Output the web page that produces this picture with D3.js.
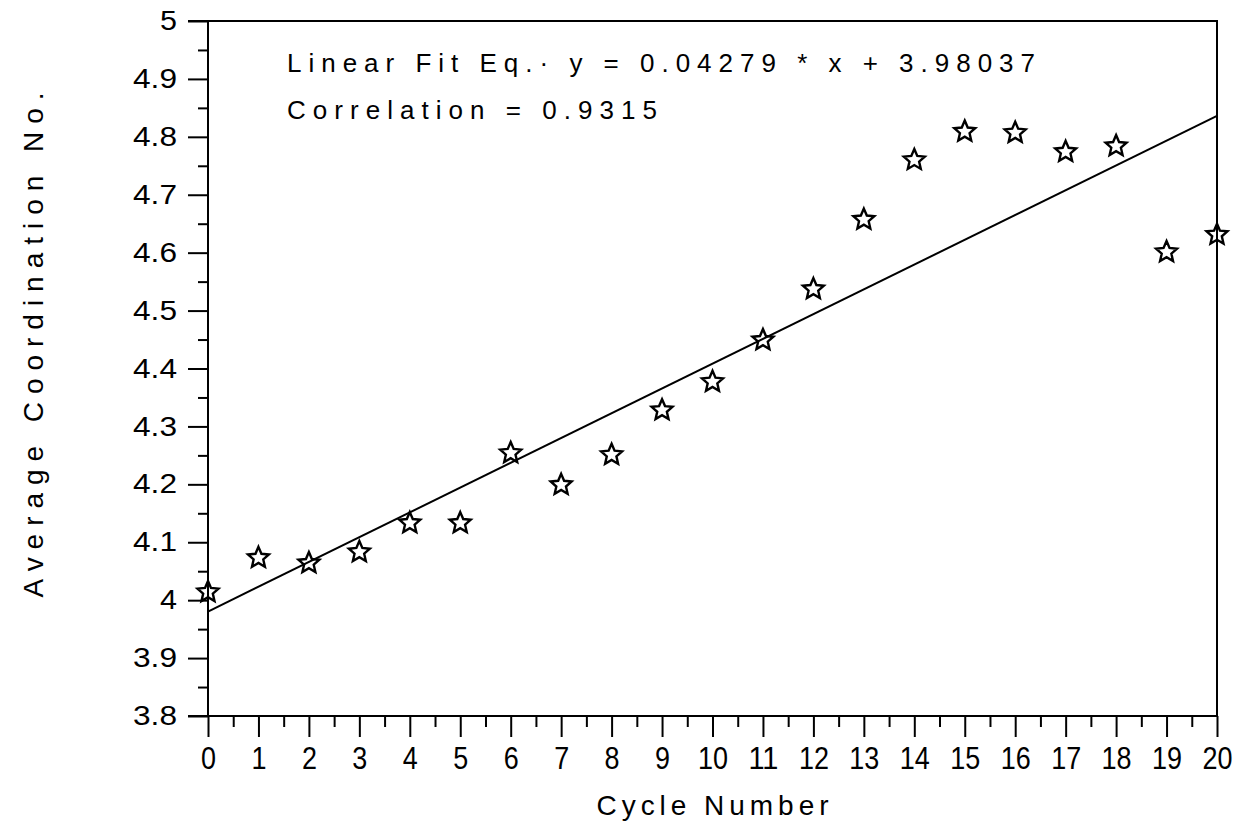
<!DOCTYPE html>
<html><head><meta charset="utf-8">
<script src="https://cdn.jsdelivr.net/npm/d3@7"></script>
<style>body{margin:0;background:#fff}svg{display:block}text{font-family:"Liberation Sans",Arial,sans-serif;fill:#000}</style>
</head><body><svg id="c" width="1240" height="825"></svg>
<script>
// ---- data ----
const cycles = [0,1,2,3,4,5,6,7,8,9,10,11,12,13,14,15,16,17,18,19,20];
const coordination = [4.014,4.073,4.064,4.083,4.133,4.133,4.254,4.199,4.251,4.328,4.377,4.449,4.537,4.657,4.760,4.809,4.807,4.774,4.784,4.601,4.631];
const fitSlope = 0.04279;
const fitIntercept = 3.98037;
const fitEqText = "Linear Fit Eq.\u00b7 y = 0.04279 * x + 3.98037";
const corrText = "Correlation = 0.9315";
const xTickValues = [0,1,2,3,4,5,6,7,8,9,10,11,12,13,14,15,16,17,18,19,20];
const xMinorTickValues = [0.5,1.5,2.5,3.5,4.5,5.5,6.5,7.5,8.5,9.5,10.5,11.5,12.5,13.5,14.5,15.5,16.5,17.5,18.5,19.5];
const yTickValues = [3.8,3.9,4.0,4.1,4.2,4.3,4.4,4.5,4.6,4.7,4.8,4.9,5.0];
const yTickLabels = ["3.8","3.9","4","4.1","4.2","4.3","4.4","4.5","4.6","4.7","4.8","4.9","5"];
const yMinorTickValues = [3.85,3.95,4.05,4.15,4.25,4.35,4.45,4.55,4.65,4.75,4.85,4.95];
const xTitle = "Cycle Number";
const yTitle = "Average Coordination No.";

// ---- layout ----
const L = 208, R = 1217, T = 21, B = 716;
const svg = d3.select("#c");
const x = d3.scaleLinear().domain([0,20]).range([L,R]);
const y = d3.scaleLinear().domain([3.8,5]).range([B,T]);

// frame (top & right)
svg.append("path").attr("d", `M${L-20},${T}H${R}V${B}`).attr("fill","none").attr("stroke","#000").attr("stroke-width",2);

// x axis
const gx = svg.append("g").attr("transform",`translate(0,${B})`)
  .call(d3.axisBottom(x).tickValues(xTickValues).tickSize(21).tickPadding(10).tickFormat(d=>String(d)));
gx.select(".domain").remove();
svg.append("line").attr("x1",L-20).attr("x2",R).attr("y1",B).attr("y2",B).attr("stroke","#000").attr("stroke-width",2);
const gxm = svg.append("g").attr("transform",`translate(0,${B})`)
  .call(d3.axisBottom(x).tickValues(xMinorTickValues).tickSize(11).tickFormat(""));
gxm.select(".domain").remove();
gx.selectAll("text").attr("font-size",31).attr("font-family","Liberation Sans")
  .attr("textLength", d => String(d).length===1 ? 15 : 30).attr("lengthAdjust","spacingAndGlyphs");

// y axis
const gy = svg.append("g").attr("transform",`translate(${L},0)`)
  .call(d3.axisLeft(y).tickValues(yTickValues).tickSize(20).tickPadding(11).tickFormat((d,i)=>yTickLabels[i]));
gy.select(".domain").remove();
svg.append("line").attr("x1",L).attr("x2",L).attr("y1",T).attr("y2",B).attr("stroke","#000").attr("stroke-width",2);
const gym = svg.append("g").attr("transform",`translate(${L},0)`)
  .call(d3.axisLeft(y).tickValues(yMinorTickValues).tickSize(10).tickFormat(""));
gym.select(".domain").remove();
svg.selectAll(".tick line").attr("stroke","#000").attr("stroke-width",2);
gy.selectAll("text").attr("font-size",27).attr("font-family","Liberation Sans")
  .attr("textLength", (d,i) => yTickLabels[i].length===1 ? 17 : 44).attr("lengthAdjust","spacingAndGlyphs");

// fit line
svg.append("line")
  .attr("x1", x(0)).attr("y1", y(fitIntercept))
  .attr("x2", x(20)).attr("y2", y(fitIntercept + fitSlope*20))
  .attr("stroke","#000").attr("stroke-width",2);

// star markers (outline, slightly fat five-point star)
const fatStar = {
  draw(ctx, size) {
    const r = Math.sqrt(size) * 0.9, ri = r * 0.46;
    for (let k = 0; k < 10; ++k) {
      const a = -Math.PI/2 + k * Math.PI/5, rr = k % 2 ? ri : r;
      const px = rr * Math.cos(a), py = rr * Math.sin(a);
      k ? ctx.lineTo(px, py) : ctx.moveTo(px, py);
    }
    ctx.closePath();
  }
};
const star = d3.symbol().type(fatStar).size(150);
svg.append("g").selectAll("path").data(cycles).join("path")
  .attr("transform", (d,i) => `translate(${x(d)},${y(coordination[i])})`)
  .attr("d", star).attr("fill","none").attr("stroke","#000").attr("stroke-width",2.4).attr("stroke-linejoin","miter");

// annotations
svg.append("text").attr("x",287).attr("y",72).attr("font-size",26)
  .attr("textLength",748).attr("lengthAdjust","spacing").text(fitEqText);
svg.append("text").attr("x",287).attr("y",119).attr("font-size",26)
  .attr("textLength",370).attr("lengthAdjust","spacing").text(corrText);

// axis titles
svg.append("text").attr("x",(L+R)/2).attr("y",815).attr("font-size",28).attr("text-anchor","middle")
  .attr("textLength",232).attr("lengthAdjust","spacing").text(xTitle);
svg.append("text").attr("transform","translate(43,345) rotate(-90)").attr("font-size",28).attr("text-anchor","middle")
  .attr("textLength",505).attr("lengthAdjust","spacing").text(yTitle);
</script></body></html>
